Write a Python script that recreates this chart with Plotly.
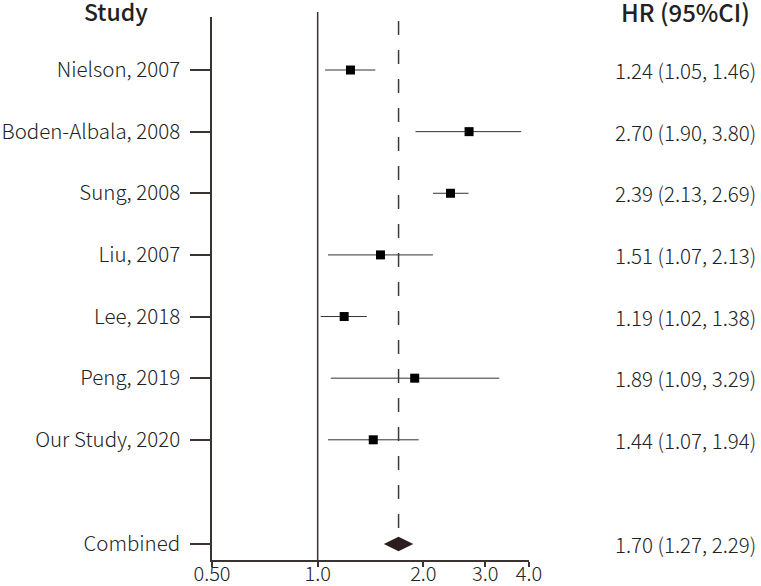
import plotly.graph_objects as go

studies = ["Nielson, 2007", "Boden-Albala, 2008", "Sung, 2008", "Liu, 2007",
           "Lee, 2018", "Peng, 2019", "Our Study, 2020"]
hr = [1.24, 2.70, 2.39, 1.51, 1.19, 1.89, 1.44]
lo = [1.05, 1.90, 2.13, 1.07, 1.02, 1.09, 1.07]
hi = [1.46, 3.80, 2.69, 2.13, 1.38, 3.29, 1.94]
comb_label = "Combined"
comb_hr, comb_lo, comb_hi = 1.70, 1.27, 2.29
x_ticks = [0.5, 1.0, 2.0, 3.0, 4.0]
x_ticktext = ["0.50", "1.0", "2.0", "3.0", "4.0"]

FONT = "Noto Sans CJK KR"
FW = 300
TXT = "#222222"
AX = "#3b3232"

L, R, T, B = 212, 529, 17, 560
W, H = 761, 586
PW, PH = R - L, B - T


def px(xp):
    return (xp - L) / PW


def py(yp):
    return (B - yp) / PH


ypos = list(range(1, len(studies) + 1))
y_comb = len(studies) + 1.69

fig = go.Figure()
fig.add_trace(go.Scatter(
    x=hr, y=ypos, mode="markers",
    marker=dict(symbol="square", size=9, color="black"),
    error_x=dict(type="data", symmetric=False,
                 array=[h - m for h, m in zip(hi, hr)],
                 arrayminus=[m - l for m, l in zip(hr, lo)],
                 thickness=1, width=0, color="#333333"),
    showlegend=False, hoverinfo="skip"))
fig.add_trace(go.Scatter(
    x=[comb_hr], y=[y_comb], mode="markers",
    marker=dict(symbol="diamond-wide", size=21, color="#2a1e1e"),
    showlegend=False, hoverinfo="skip"))

fig.add_shape(type="line", xref="x", yref="paper", x0=1.0, x1=1.0, y0=0, y1=py(12),
              line=dict(color=AX, width=1.5))
fig.add_shape(type="line", xref="x", yref="paper", x0=comb_hr, x1=comb_hr,
              y0=py(528), y1=py(12),
              line=dict(color="#3a3a3a", width=1.5, dash="14px,15px"))

labels = [f"{h:.2f} ({l:.2f}, {u:.2f})" for h, l, u in zip(hr, lo, hi)]
for y, t in zip(ypos + [y_comb], labels + [f"{comb_hr:.2f} ({comb_lo:.2f}, {comb_hi:.2f})"]):
    fig.add_annotation(x=px(613), xref="paper", y=y, yref="y", text=t,
                       showarrow=False, xanchor="left", yanchor="middle",
                       font=dict(family=FONT, size=20.5, color=TXT, weight=FW))

fig.add_annotation(x=px(116), xref="paper", y=py(11), yref="paper",
                   text="Study", showarrow=False, xanchor="center", yanchor="middle",
                   font=dict(family=FONT, size=23, color=TXT, weight=500))
fig.add_annotation(x=px(685), xref="paper", y=py(11), yref="paper",
                   text="HR (95%CI)", showarrow=False, xanchor="center", yanchor="middle",
                   font=dict(family=FONT, size=24, color=TXT, weight=500))

fig.update_xaxes(type="log", range=[-0.30103, 0.60206], tickvals=x_ticks, ticktext=x_ticktext,
                 showline=True, linecolor=AX, linewidth=1.5, ticks="outside", ticklen=5,
                 tickcolor=AX, tickwidth=1.5, showgrid=False, zeroline=False, automargin=False,
                 ticklabelstandoff=-10,
                 tickfont=dict(family=FONT, size=20, color=TXT, weight=FW))
fig.update_yaxes(range=[8.95, 0.14], tickvals=ypos + [y_comb], ticktext=studies + [comb_label],
                 showline=True, linecolor=AX, linewidth=1.5, ticks="outside", ticklen=20,
                 tickcolor=AX, tickwidth=1.5, showgrid=False, zeroline=False, automargin=False,
                 ticklabelstandoff=6,
                 tickfont=dict(family=FONT, size=20.5, color=TXT, weight=FW))
fig.update_layout(width=W, height=H, margin=dict(l=L, r=W - R, t=T, b=H - B),
                  plot_bgcolor="white", paper_bgcolor="white")
fig.write_html("out.html", config={"displayModeBar": False},
               post_script="document.body.style.margin='0px';")
